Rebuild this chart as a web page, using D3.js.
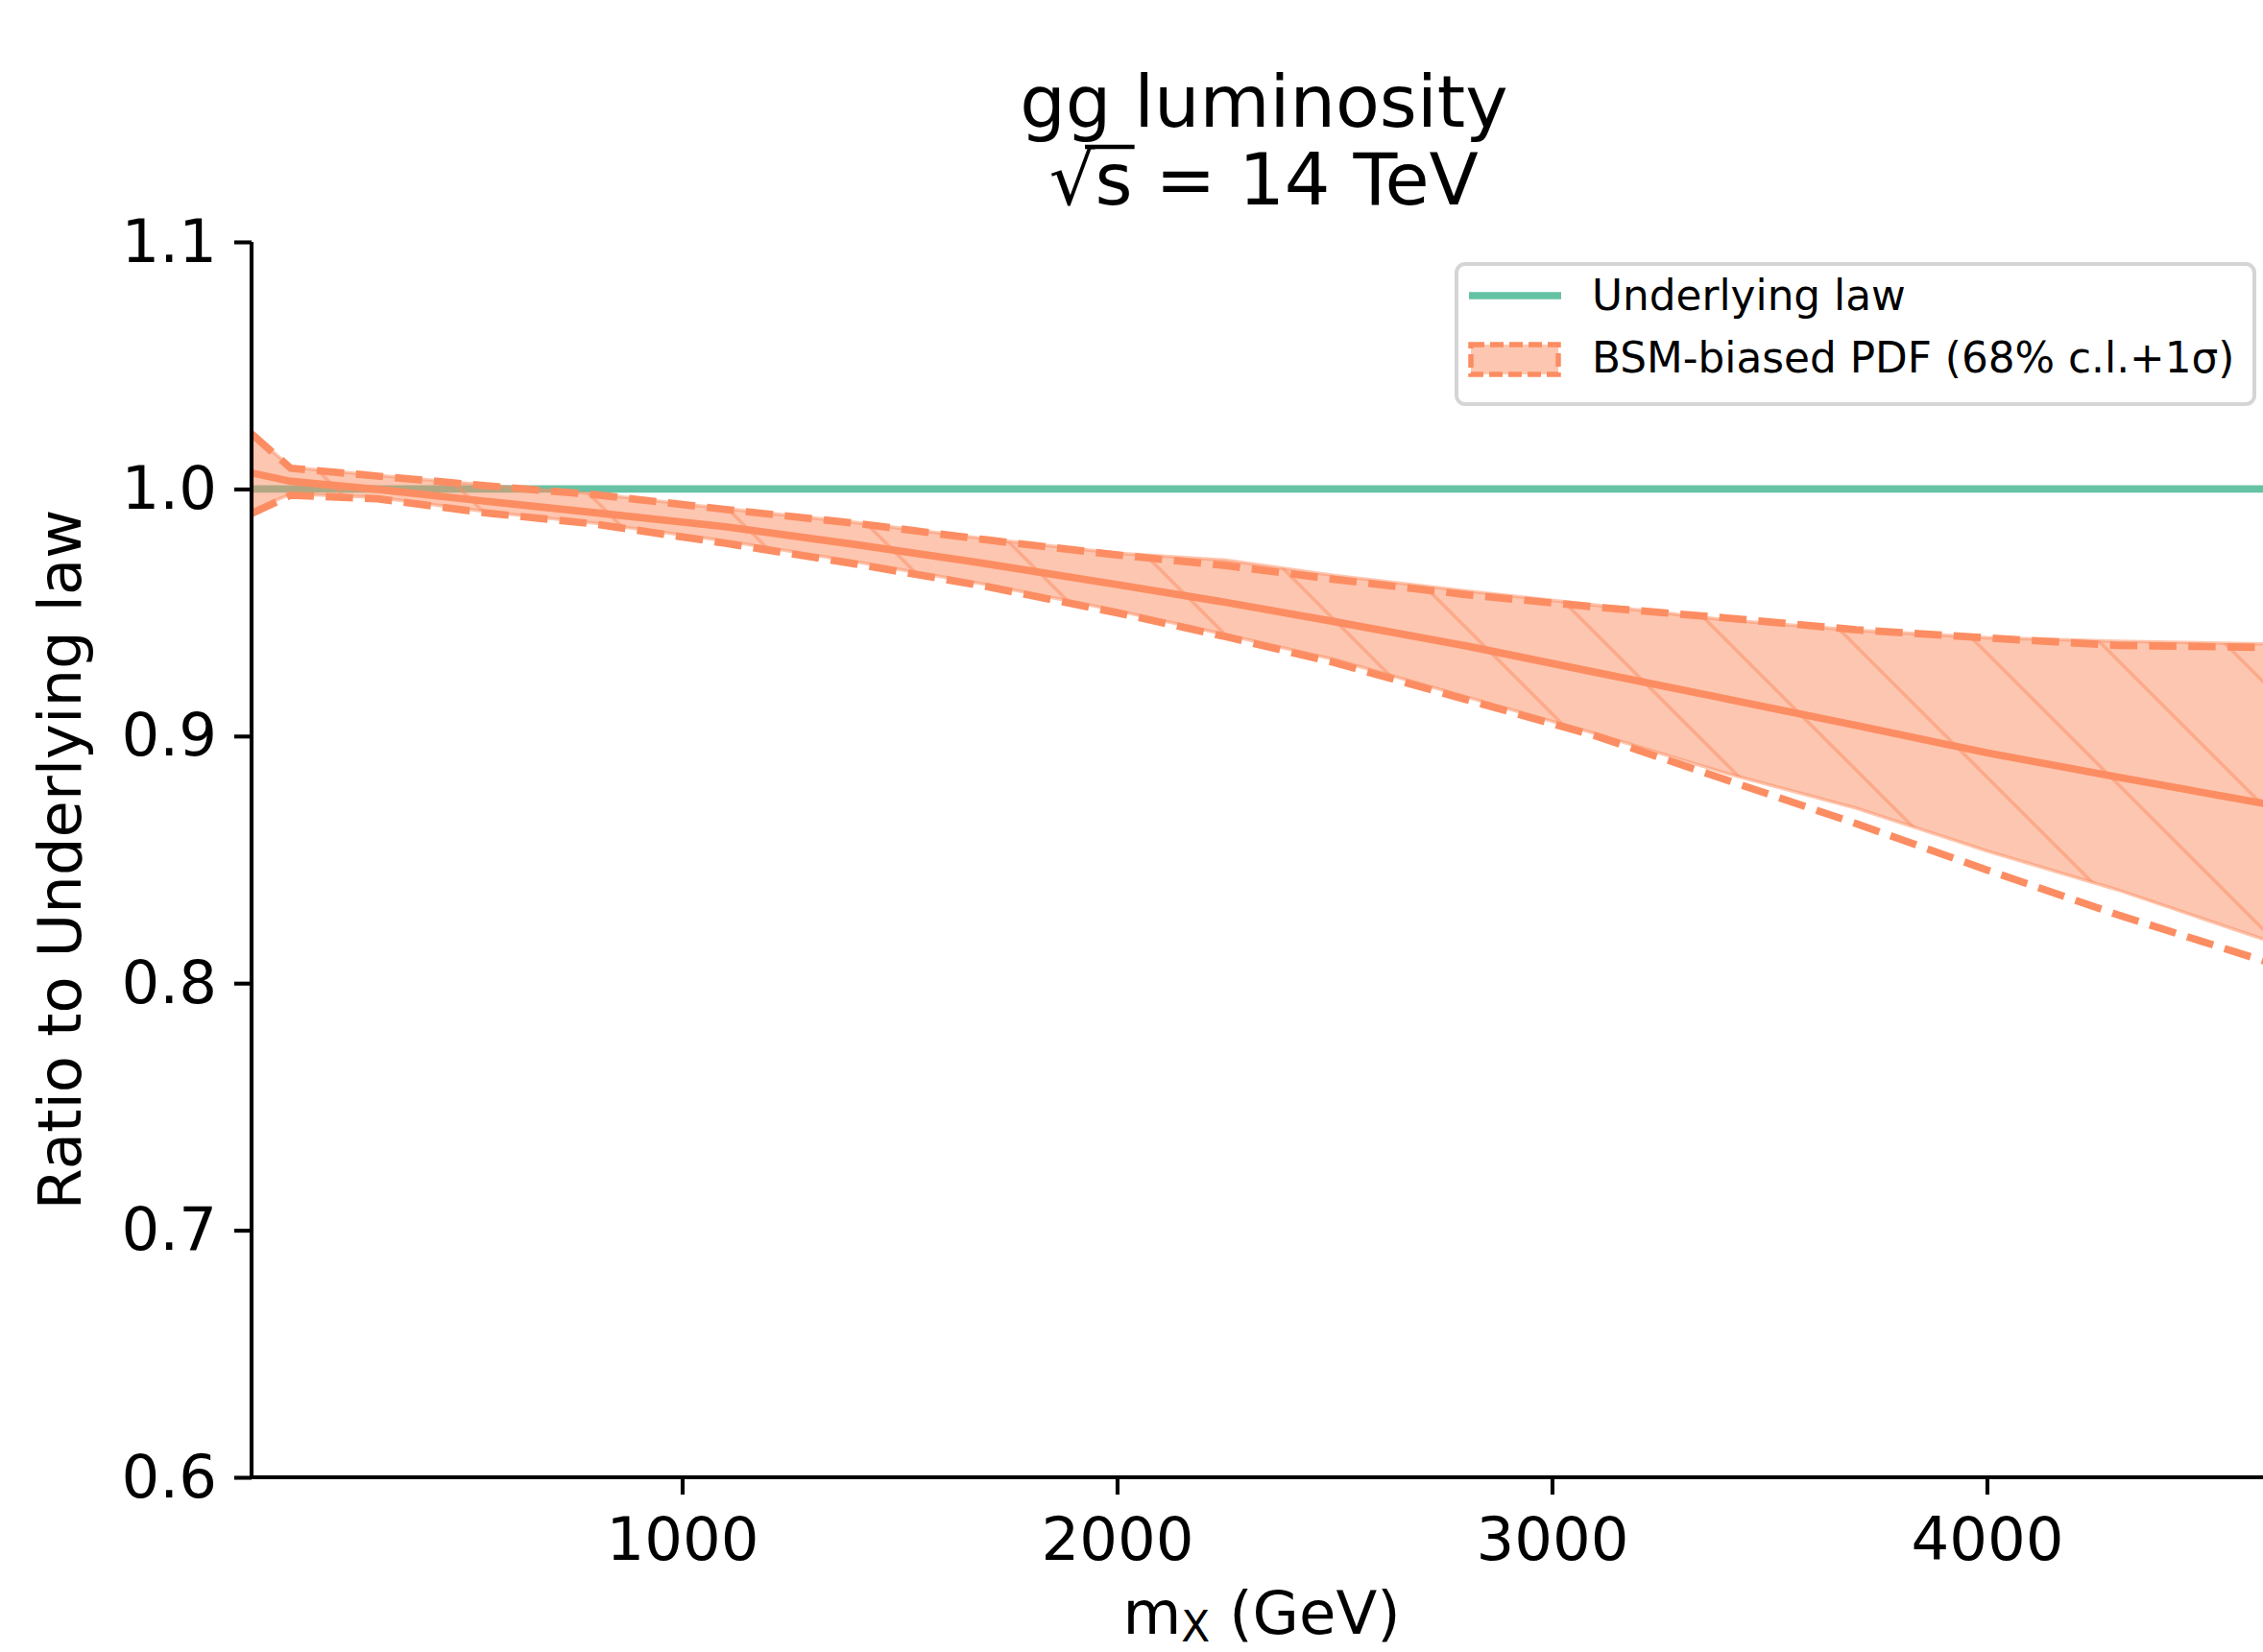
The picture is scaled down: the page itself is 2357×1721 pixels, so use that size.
<!DOCTYPE html>
<html>
<head>
<meta charset="utf-8">
<script src="https://cdn.jsdelivr.net/npm/d3@7/dist/d3.min.js"></script>
<style>
  html, body { margin: 0; padding: 0; background: #ffffff; }
  svg { display: block; }
  text { font-family: "DejaVu Sans", sans-serif; fill: #000; }
</style>
</head>
<body>
<svg id="chart" width="2357" height="1721"></svg>
<script>
// gg luminosity ratio, BSM-biased PDF fit vs. underlying law (sqrt(s) = 14 TeV)
const mx        = [10, 100, 300, 550, 800, 1100, 1400, 1700, 2000, 2250, 2500, 2800, 3100, 3400, 3700, 4000, 4300, 4665];
const central   = [1.0065, 1.0031, 0.9998, 0.9950, 0.9904, 0.9847, 0.9775, 0.9697, 0.9613, 0.9541, 0.9463, 0.9366, 0.9258, 0.9151, 0.9043, 0.8932, 0.8834, 0.8718];
const bandHigh  = [1.0226, 1.0088, 1.0055, 1.0016, 0.9980, 0.9920, 0.9864, 0.9798, 0.9740, 0.9712, 0.9650, 0.9588, 0.9530, 0.9470, 0.9428, 0.9398, 0.9384, 0.9372];
const bandLow   = [0.9912, 0.9980, 0.9966, 0.9908, 0.9862, 0.9790, 0.9705, 0.9613, 0.9508, 0.9410, 0.9310, 0.9160, 0.9010, 0.8850, 0.8708, 0.8535, 0.8378, 0.8160];
const upper1s   = [1.0223, 1.0084, 1.0052, 1.0013, 0.9977, 0.9917, 0.9861, 0.9794, 0.9733, 0.9690, 0.9634, 0.9573, 0.9522, 0.9478, 0.9430, 0.9397, 0.9367, 0.9358];
const lower1s   = [0.9900, 0.9975, 0.9960, 0.9903, 0.9858, 0.9780, 0.9696, 0.9605, 0.9499, 0.9402, 0.9297, 0.9149, 0.9001, 0.8823, 0.8645, 0.8458, 0.8277, 0.8074];
const underlying = 1.0;

const xTicks = [1000, 2000, 3000, 4000];
const yTicks = [0.6, 0.7, 0.8, 0.9, 1.0, 1.1];

const titleLine1 = "gg luminosity";
const titleLine2 = "√s = 14 TeV";
const xLabelMain = "m";
const xLabelSub = "X";
const xLabelRest = " (GeV)";
const yLabel = "Ratio to Underlying law";
const legendLabels = ["Underlying law", "BSM-biased PDF (68% c.l.+1σ)"];

const GREEN = "#66c2a5";
const ORANGE = "#fc8d62";
const ORANGE_A = "rgba(252,141,98,0.5)";

(function draw() {
  const W = 2357;
  const pLeft = 262, pTop = 252, pBottom = 1539;
  const pxPerGeV = 0.453;
  const pRight = pLeft + (mx[mx.length - 1] - mx[0]) * pxPerGeV;

  const svg = d3.select("#chart");

  const x = d3.scaleLinear().domain([mx[0], mx[mx.length - 1]]).range([pLeft, pRight]);
  const y = d3.scaleLinear().domain([0.6, 1.1]).range([pBottom, pTop]);

  const rows = mx.map((m, i) => ({
    m, c: central[i], hi: bandHigh[i], lo: bandLow[i], up: upper1s[i], dn: lower1s[i]
  }));

  const defs = svg.append("defs");
  defs.append("clipPath").attr("id", "plotclip")
    .append("rect").attr("x", pLeft).attr("y", pTop - 20)
    .attr("width", pRight - pLeft).attr("height", pBottom - pTop + 20);

  // diagonal hatch for the 68% band
  const hs = 129;
  const hatch = defs.append("pattern")
    .attr("id", "hatch")
    .attr("patternUnits", "userSpaceOnUse")
    .attr("width", hs).attr("height", hs)
    .attr("patternTransform", "translate(99,0)");
  [[-10, -10, hs + 10, hs + 10], [-10, hs - 10, 10, hs + 10], [hs - 10, -10, hs + 10, 10]].forEach(s => {
    hatch.append("line")
      .attr("x1", s[0]).attr("y1", s[1]).attr("x2", s[2]).attr("y2", s[3])
      .attr("stroke", ORANGE_A).attr("stroke-width", 3.6);
  });

  const plot = svg.append("g").attr("clip-path", "url(#plotclip)");

  // underlying law reference
  plot.append("line")
    .attr("x1", pLeft).attr("x2", pRight)
    .attr("y1", y(underlying)).attr("y2", y(underlying))
    .attr("stroke", GREEN).attr("stroke-width", 7.7);

  // 68% c.l. band
  const area = d3.area().x(d => x(d.m)).y0(d => y(d.lo)).y1(d => y(d.hi));
  plot.append("path").datum(rows)
    .attr("d", area)
    .attr("fill", ORANGE_A)
    .attr("stroke", ORANGE_A).attr("stroke-width", 3.6);
  plot.append("path").datum(rows)
    .attr("d", area)
    .attr("fill", "url(#hatch)");

  // central value and 1-sigma bounds
  const line = key => d3.line().x(d => x(d.m)).y(d => y(d[key]));
  plot.append("path").datum(rows).attr("d", line("c"))
    .attr("fill", "none").attr("stroke", ORANGE).attr("stroke-width", 7.7);
  ["up", "dn"].forEach(k => {
    plot.append("path").datum(rows).attr("d", line(k))
      .attr("fill", "none").attr("stroke", ORANGE).attr("stroke-width", 7.7)
      .attr("stroke-dasharray", "28.5,12.3");
  });

  // axes
  const fs = 62.5;
  const xAxis = d3.axisBottom(x).tickValues(xTicks).tickSize(18).tickSizeOuter(0).tickPadding(24)
    .tickFormat(d3.format("d"));
  const gx = svg.append("g").attr("transform", `translate(0,${pBottom})`).call(xAxis);
  gx.select(".domain").attr("stroke", "#000").attr("stroke-width", 4.1)
    .attr("d", `M${pLeft - 2},0H${W + 10}`);
  gx.selectAll(".tick line").attr("stroke", "#000").attr("stroke-width", 4.1);
  gx.selectAll(".tick text").attr("font-size", fs).attr("font-family", "DejaVu Sans").attr("fill", "#000");

  const yAxis = d3.axisLeft(y).tickValues(yTicks).tickSize(18).tickSizeOuter(0).tickPadding(18)
    .tickFormat(d3.format(".1f"));
  const gy = svg.append("g").attr("transform", `translate(${pLeft},0)`).call(yAxis);
  gy.select(".domain").attr("stroke", "#000").attr("stroke-width", 4.1)
    .attr("d", `M0,${pTop}V${pBottom + 2}`);
  gy.selectAll(".tick line").attr("stroke", "#000").attr("stroke-width", 4.1);
  gy.selectAll(".tick text").attr("font-size", fs).attr("font-family", "DejaVu Sans").attr("fill", "#000");

  // axis labels
  const xl = svg.append("text")
    .attr("x", 1314).attr("y", 1702)
    .attr("text-anchor", "middle")
    .attr("font-size", fs);
  xl.append("tspan").text(xLabelMain);
  xl.append("tspan").attr("font-size", fs * 0.7).attr("dy", 8).text(xLabelSub);
  xl.append("tspan").attr("dy", -8).text(xLabelRest);

  svg.append("text")
    .attr("transform", `translate(84,${(pTop + pBottom) / 2}) rotate(-90)`)
    .attr("text-anchor", "middle")
    .attr("font-size", fs)
    .text(yLabel);

  // title
  const tfs = 75;
  const cx = (pLeft + pRight) / 2;
  svg.append("text")
    .attr("x", cx).attr("y", 132)
    .attr("text-anchor", "middle").attr("font-size", tfs)
    .text(titleLine1);
  const t2 = svg.append("text")
    .attr("x", cx).attr("y", 213)
    .attr("text-anchor", "middle").attr("font-size", tfs)
    .text(titleLine2);
  {
    const n = t2.node();
    const e0 = n.getExtentOfChar(0);
    const e1 = n.getExtentOfChar(1);
    svg.append("line")
      .attr("x1", e0.x + e0.width * 0.78).attr("x2", e1.x + e1.width + 2)
      .attr("y1", 213 - tfs * 0.80).attr("y2", 213 - tfs * 0.80)
      .attr("stroke", "#000").attr("stroke-width", 4.5);
  }

  // legend
  const lg = svg.append("g");
  lg.append("rect")
    .attr("x", 1517).attr("y", 275).attr("width", 831).attr("height", 146)
    .attr("rx", 9).attr("ry", 9)
    .attr("fill", "rgba(255,255,255,0.8)")
    .attr("stroke", "#d5d5d5").attr("stroke-width", 4);
  const lfs = 43.75;
  lg.append("line")
    .attr("x1", 1530).attr("x2", 1626).attr("y1", 308).attr("y2", 308)
    .attr("stroke", GREEN).attr("stroke-width", 7.7);
  lg.append("rect")
    .attr("x", 1532).attr("y", 359).attr("width", 91).attr("height", 31)
    .attr("fill", ORANGE_A)
    .attr("stroke", ORANGE).attr("stroke-width", 5.5)
    .attr("stroke-dasharray", "14,6");
  lg.append("text").attr("x", 1658).attr("y", 308).attr("dy", "0.35em")
    .attr("font-size", lfs).text(legendLabels[0]);
  lg.append("text").attr("x", 1658).attr("y", 373).attr("dy", "0.35em")
    .attr("font-size", lfs).text(legendLabels[1]);
})();
</script>
</body>
</html>
